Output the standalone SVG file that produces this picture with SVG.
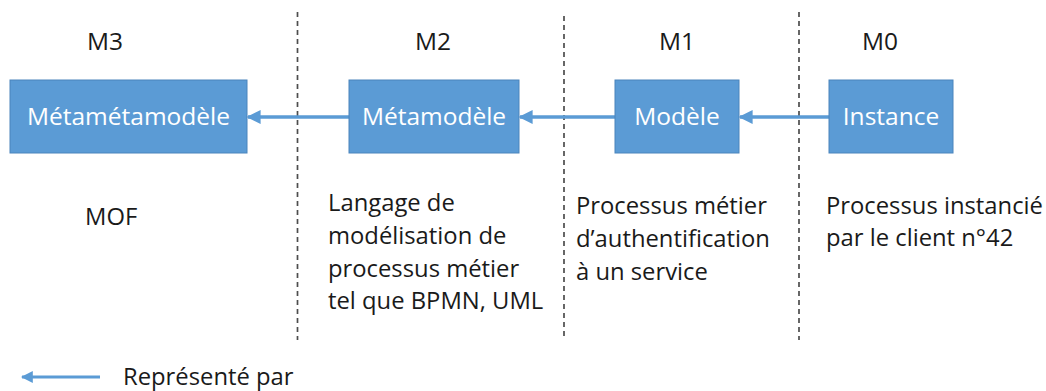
<svg xmlns="http://www.w3.org/2000/svg" width="1046" height="391" viewBox="0 0 1046 391">
<style>
.box{fill:#5B9BD5;stroke:#4A84BC;stroke-width:1}
.bt{font-family:"Open Sans","Liberation Sans",sans-serif;font-size:24.5px;fill:#FFFFFF;text-anchor:middle}
.lv{font-family:"Open Sans","Liberation Sans",sans-serif;font-size:24.5px;fill:#1a1a1a;text-anchor:middle}
.tx{font-family:"Open Sans","Liberation Sans",sans-serif;font-size:23.8px;fill:#1a1a1a}
.sep{stroke:#4d4d4d;stroke-width:1.7;stroke-dasharray:5,4;fill:none}
.arr{stroke:#5B9BD5;stroke-width:3.5;fill:none;marker-end:url(#ah)}
</style>
<defs>
<marker id="ah" viewBox="0 0 10 10" refX="9" refY="5" markerWidth="4" markerHeight="4" orient="auto" markerUnits="strokeWidth">
<path d="M0,0 L10,5 L0,10 z" fill="#5B9BD5"/>
</marker>
</defs>
<rect width="1046" height="391" fill="#FFFFFF"/>
<g id="separators">
<line class="sep" x1="297.5" y1="12" x2="297.5" y2="340"/>
<line class="sep" x1="564" y1="16" x2="564" y2="340"/>
<line class="sep" x1="799" y1="12" x2="799" y2="340"/>
</g>
<g id="levels">
<text class="lv" x="105" y="50">M3</text>
<text class="lv" x="433" y="50">M2</text>
<text class="lv" x="677" y="50">M1</text>
<text class="lv" x="880" y="50">M0</text>
</g>
<g id="connectors">
<line class="arr" x1="349" y1="117" x2="248" y2="117"/>
<line class="arr" x1="615" y1="117" x2="520" y2="117"/>
<line class="arr" x1="829" y1="117" x2="740" y2="117"/>
</g>
<g id="metametamodele">
<rect class="box" x="10" y="80" width="237" height="73"/>
<text class="bt" x="128.5" y="125">Métamétamodèle</text>
</g>
<g id="metamodele">
<rect class="box" x="349" y="80" width="170" height="73"/>
<text class="bt" x="434" y="125">Métamodèle</text>
</g>
<g id="modele">
<rect class="box" x="615" y="80" width="124" height="73"/>
<text class="bt" x="677" y="125">Modèle</text>
</g>
<g id="instance">
<rect class="box" x="829" y="80" width="124" height="73"/>
<text class="bt" x="891" y="125">Instance</text>
</g>
<g id="descriptions">
<text class="tx" x="85" y="225">MOF</text>
<text class="tx" x="328" y="211">Langage de</text>
<text class="tx" x="328" y="244">modélisation de</text>
<text class="tx" x="328" y="277">processus métier</text>
<text class="tx" x="328" y="309">tel que BPMN, UML</text>
<text class="tx" x="576" y="214">Processus métier</text>
<text class="tx" x="576" y="247">d’authentification</text>
<text class="tx" x="576" y="280">à un service</text>
<text class="tx" x="826" y="214">Processus instancié</text>
<text class="tx" x="826" y="246">par le client n°42</text>
</g>
<g id="legend">
<line class="arr" x1="100" y1="377" x2="22" y2="377" style="stroke-width:3"/>
<text class="tx" x="123" y="385">Représenté par</text>
</g>
</svg>
